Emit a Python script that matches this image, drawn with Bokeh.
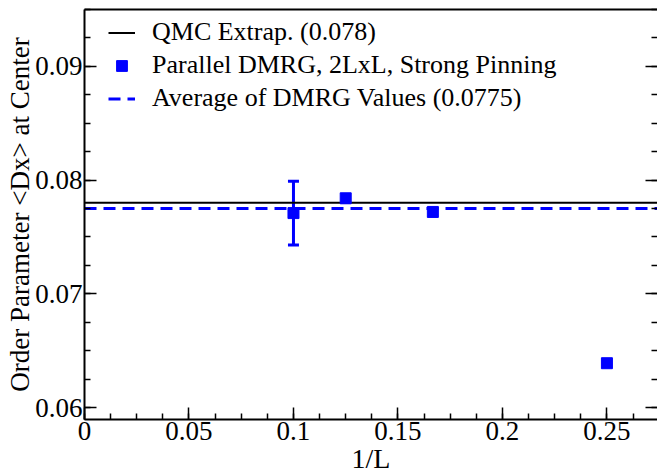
from bokeh.plotting import figure
from bokeh.models import (LinearAxis, SingleIntervalTicker, FixedTicker, Range1d,
                          CustomJSTickFormatter, Whisker, TeeHead, ColumnDataSource,
                          Legend, LegendItem)
from bokeh.embed import file_html
from bokeh.resources import INLINE

# ---- data ----
inv_L = [0.1, 0.125, 0.1667, 0.25]
dx_center = [0.0771, 0.0784, 0.0772, 0.0639]
err_x = [0.1]
err_lower = [0.0743]
err_upper = [0.0799]
qmc_value = 0.078
dmrg_avg = 0.0775

x_ticks_interval = 0.05
y_ticks_interval = 0.01

X_MIN, X_MAX = 0.0, 0.2742
Y_MIN, Y_MAX = 0.05895, 0.0950

FONT = "Liberation Serif"
BLUE = "#0000ff"

p = figure(width=657, height=476, x_range=Range1d(X_MIN, X_MAX), y_range=Range1d(Y_MIN, Y_MAX),
           output_backend="svg", toolbar_location=None,
           min_border_left=84, min_border_right=0, min_border_top=9, min_border_bottom=56)
p.xgrid.grid_line_color = None
p.ygrid.grid_line_color = None
p.outline_line_color = None
p.background_fill_color = "white"
p.border_fill_color = "white"

fmt = CustomJSTickFormatter(code="return String(parseFloat(tick.toFixed(4)));")
blank = CustomJSTickFormatter(code="return '';")


def style(ax, labels=True):
    ax.axis_line_width = 2
    ax.axis_line_color = "black"
    ax.major_tick_in = 12
    ax.major_tick_out = 0
    ax.minor_tick_in = 6
    ax.minor_tick_out = 0
    ax.major_tick_line_width = 1.5
    ax.minor_tick_line_width = 1.5
    ax.major_tick_line_color = "black"
    ax.minor_tick_line_color = "black"
    ax.major_label_text_font = FONT
    ax.major_label_text_color = "black"
    ax.major_label_text_font_size = "27px"
    ax.axis_label_text_font = FONT
    ax.axis_label_text_font_style = "normal"
    ax.axis_label_text_color = "black"
    if not labels:
        ax.formatter = blank
        ax.major_label_standoff = 0


xax = p.xaxis[0]
xax.ticker = SingleIntervalTicker(interval=x_ticks_interval, num_minor_ticks=4)
xax.formatter = fmt
style(xax)
xax.axis_label = "1/L"
xax.axis_label_text_font_size = "28px"
xax.major_label_standoff = 2
xax.axis_label_standoff = 0

yax = p.yaxis[0]
yax.ticker = SingleIntervalTicker(interval=y_ticks_interval, num_minor_ticks=4)
yax.formatter = fmt
style(yax)
yax.axis_label = "Order Parameter <Dx> at Center"
yax.axis_label_text_font_size = "27px"
yax.major_label_standoff = 2
yax.axis_label_standoff = -3

rax = LinearAxis(ticker=SingleIntervalTicker(interval=y_ticks_interval, num_minor_ticks=4))
style(rax, labels=False)
rax.axis_line_color = None
p.add_layout(rax, "right")

tax = LinearAxis(ticker=FixedTicker(ticks=[]))
style(tax, labels=False)
p.add_layout(tax, "above")

# ---- glyphs ----
r_qmc = p.line([X_MIN, X_MAX], [qmc_value, qmc_value], line_color="black", line_width=2)
r_avg = p.line([X_MIN, X_MAX], [dmrg_avg, dmrg_avg], line_color=BLUE, line_width=3,
               line_dash="12 7")

err_src = ColumnDataSource(dict(x=err_x, lower=err_lower, upper=err_upper))
wh = Whisker(source=err_src, base="x", lower="lower", upper="upper",
             line_color=BLUE, line_width=3,
             upper_head=TeeHead(size=11, line_color=BLUE, line_width=3),
             lower_head=TeeHead(size=11, line_color=BLUE, line_width=3))
p.add_layout(wh)

src = ColumnDataSource(dict(x=inv_L, y=dx_center))
r_pts = p.scatter("x", "y", source=src, marker="square", size=11,
                  fill_color=BLUE, line_color=BLUE)

legend = Legend(items=[
    LegendItem(label="QMC Extrap. (0.078)", renderers=[r_qmc]),
    LegendItem(label="Parallel DMRG, 2LxL, Strong Pinning", renderers=[r_pts]),
    LegendItem(label="Average of DMRG Values (0.0775)", renderers=[r_avg]),
], location=(24, 306))
legend.background_fill_alpha = 0
legend.border_line_color = None
legend.label_text_font = FONT
legend.label_text_font_size = "26px"
legend.label_text_color = "black"
legend.glyph_width = 27
legend.glyph_height = 27
legend.label_height = 27
legend.label_standoff = 17
legend.spacing = 3
legend.padding = 5
legend.margin = 0
p.add_layout(legend)

open("out.html", "w").write(file_html(p, INLINE))
